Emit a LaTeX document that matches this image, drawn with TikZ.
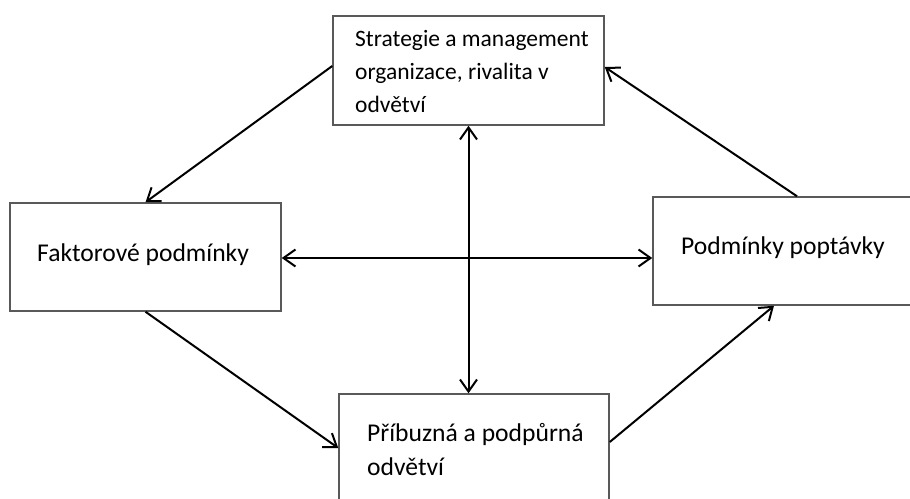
\documentclass[tikz,border=0pt]{standalone}
\usepackage{fontspec}
\setmainfont{Carlito}
\usetikzlibrary{arrows.meta,calc}
\tikzset{
  box/.style={draw=black!65, line width=1.5pt, fill=white, rectangle, inner sep=0pt},
  lbl/.style={inner sep=0pt, font=\fontsize{25.6}{33.5}\selectfont, align=left, anchor=base west},
  small/.style={font=\fontsize{23.5}{33}\selectfont},
  conn/.style={line width=2pt, -{Straight Barb[length=12pt, width=17pt, line width=2pt]}},
  both/.style={line width=2pt, {Straight Barb[length=12pt, width=17pt, line width=2pt]}-{Straight Barb[length=12pt, width=17pt, line width=2pt]}}
}
\begin{document}
\begin{tikzpicture}[x=1pt, y=-1pt]
  \clip (0,0) rectangle (910,498);
  \fill[white] (0,0) rectangle (910,498);

  % the four boxes
  \node[box, minimum width=271pt, minimum height=109pt] (top) at (468.5,70.5) {};
  \node[box, minimum width=271pt, minimum height=108pt] (left) at (145.5,257) {};
  \node[box, minimum width=288pt, minimum height=108pt] (right) at (797,251) {};
  \node[box, minimum width=270pt, minimum height=108pt] (bottom) at (474,448) {};

  % their texts (base anchor sits on the last line)
  \node[lbl, small] (toptext) at (355,112) {Strategie a management\\organizace, rivalita v\\odvětví};
  \node[lbl] (lefttext) at (37,261) {Faktorové podmínky};
  \node[lbl] (righttext) at (681,254) {Podmínky poptávky};
  \node[lbl] (bottomtext) at (367,475) {Příbuzná a podpůrná\\odvětví};

  % connectors
  \draw[conn] ([yshift=4.5pt]top.west) -- (left.north);
  \draw[conn] (right.north) -- ([yshift=3.5pt]top.east);
  \draw[conn] (left.south) -- (bottom.west);
  \draw[conn] ([yshift=6pt]bottom.east) -- ([xshift=-23pt]right.south);
  \draw[both] ([yshift=-1pt]left.east) -- ([yshift=-1pt]left.east -| right.west);
  \draw[both] (top.south) -- (top.south |- bottom.north);
\end{tikzpicture}
\end{document}
